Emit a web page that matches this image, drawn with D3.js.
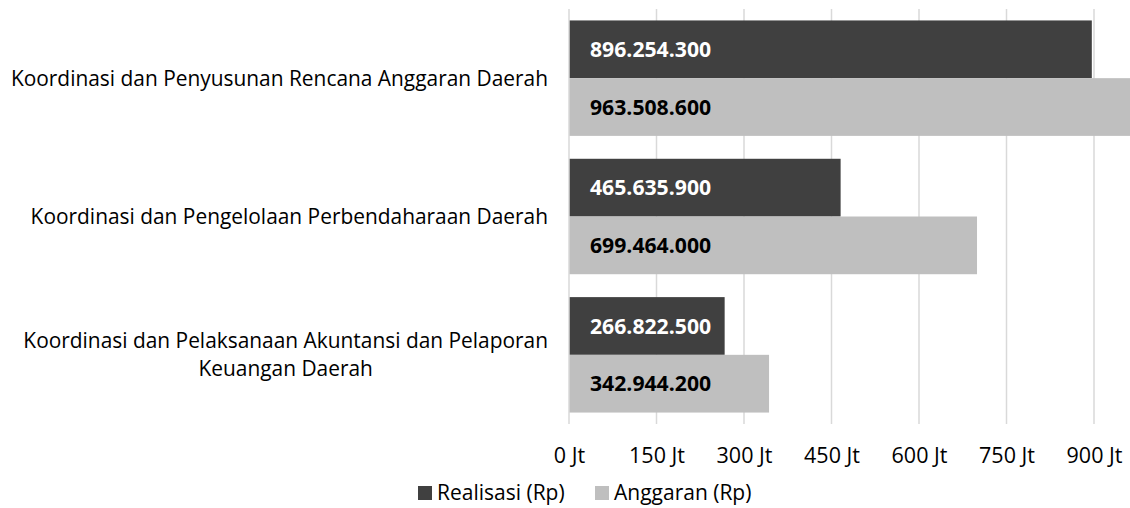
<!DOCTYPE html>
<html><head><meta charset="utf-8">
<script src="https://cdn.jsdelivr.net/npm/d3@7"></script>
<style>body{margin:0;background:#fff;}svg{display:block;font-family:"Open Sans",sans-serif;}</style>
</head><body><svg id="c" width="1130" height="508"></svg>
<script>
const categories = [
  ["Koordinasi dan Penyusunan Rencana Anggaran Daerah"],
  ["Koordinasi dan Pengelolaan Perbendaharaan Daerah"],
  ["Koordinasi dan Pelaksanaan Akuntansi dan Pelaporan", "Keuangan Daerah"]
];
const seriesNames = ["Realisasi (Rp)", "Anggaran (Rp)"];
const realisasi = [896254300, 465635900, 266822500];
const anggaran = [963508600, 699464000, 342944200];
const tickValues = [0, 150e6, 300e6, 450e6, 600e6, 750e6, 900e6];
const tickLabels = ["0 Jt", "150 Jt", "300 Jt", "450 Jt", "600 Jt", "750 Jt", "900 Jt"];
const colors = ["#404040", "#bfbfbf"];
const labelColors = ["#ffffff", "#000000"];

const svg = d3.select("#c");
const x = d3.scaleLinear().domain([0, 900e6]).range([569, 1094]);
const y = d3.scaleBand().domain(d3.range(categories.length)).range([9, 424]).paddingInner(23/139).paddingOuter(11.5/139);
const sub = d3.scaleBand().domain([0, 1]).range([0, y.bandwidth()]);
const fmt = v => d3.format(",")(v).replace(/,/g, ".");

// gridlines
svg.append("g").selectAll("line").data(tickValues.slice(1)).join("line")
  .attr("x1", d => x(d)).attr("x2", d => x(d)).attr("y1", 9).attr("y2", 424)
  .attr("stroke", "#d9d9d9").attr("stroke-width", 1.5);

const series = [realisasi, anggaran];
series.forEach((vals, si) => {
  const g = svg.append("g");
  g.selectAll("rect").data(vals).join("rect")
    .attr("x", x(0)).attr("y", (d, i) => y(i) + sub(si))
    .attr("width", d => x(d) - x(0)).attr("height", sub.bandwidth())
    .attr("fill", colors[si]);
  g.selectAll("text").data(vals).join("text")
    .attr("x", x(0) + 21).attr("y", (d, i) => y(i) + sub(si) + sub.bandwidth() / 2)
    .attr("dy", "0.36em").attr("font-size", 21.2).attr("font-weight", "bold")
    .attr("fill", labelColors[si]).text(d => fmt(d));
});

// axis line at 0
svg.append("line").attr("x1", x(0)).attr("x2", x(0)).attr("y1", 9).attr("y2", 424)
  .attr("stroke", "#d9d9d9").attr("stroke-width", 1.5);

// x axis
const xa = svg.append("g").attr("transform", "translate(0,424)")
  .call(d3.axisBottom(x).tickValues(tickValues).tickFormat((d, i) => tickLabels[i]).tickSize(0).tickPadding(24));
xa.select(".domain").remove();
xa.selectAll("text").attr("font-size", 21.5).attr("fill", "#000").style("font-family", "'Open Sans',sans-serif");

// category labels
categories.forEach((lines, i) => {
  const cy = y(i) + y.bandwidth() / 2;
  const lh = 28;
  const t = svg.append("text").attr("font-size", 20.9).attr("fill", "#000").attr("text-anchor", "end");
  lines.forEach((ln, j) => {
    const tsp = t.append("tspan").attr("y", cy + (j - (lines.length - 1) / 2) * lh).attr("dy", "0.36em").text(ln);
    if (j === 0) tsp.attr("x", 548);
  });
  if (lines.length > 1) {
    const w0 = t.select("tspan").node().getComputedTextLength();
    t.selectAll("tspan").filter((d, j) => j > 0).attr("x", 548 - w0 / 2).attr("text-anchor", "middle");
  }
});

// legend
const legend = svg.append("g");
const lx = [418, 595];
seriesNames.forEach((n, i) => {
  legend.append("rect").attr("x", lx[i]).attr("y", 486).attr("width", 14).attr("height", 14).attr("fill", colors[i]);
  legend.append("text").attr("x", lx[i] + 19).attr("y", 500).attr("font-size", 21).attr("fill", "#000").text(n);
});
</script></body></html>
